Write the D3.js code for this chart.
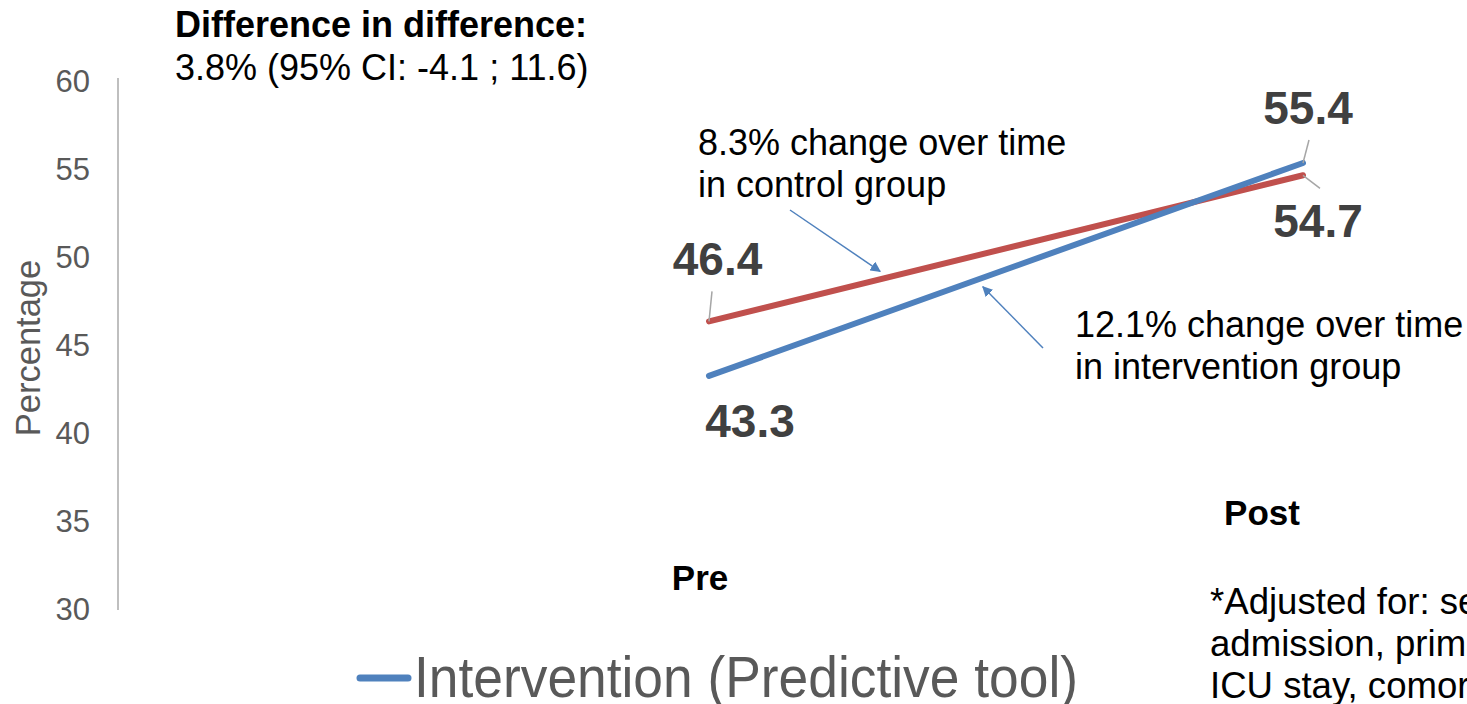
<!DOCTYPE html>
<html>
<head>
<meta charset="utf-8">
<script src="https://cdn.jsdelivr.net/npm/d3@7"></script>
<style>
  html, body { margin: 0; padding: 0; background: #fff; overflow: hidden; }
  svg { display: block; font-family: "Liberation Sans", Arial, sans-serif; }
</style>
</head>
<body>
<svg id="chart" width="1467" height="704"></svg>
<script>
// Periods and adjusted percentages
const periods = ["Pre", "Post"];
const intervention = [43.3, 55.4];
const control = [46.4, 54.7];
const yTicks = [30, 35, 40, 45, 50, 55, 60];
const seriesNames = ["Intervention (Predictive tool)", "Control"];
const footnote = [
  "*Adjusted for: sex, age, type of",
  "admission, primary diagnosis, length of",
  "ICU stay, comorbidities"
];

const svg = d3.select("#chart");
const blue = "#4f81bd", red = "#c0504d";

const x = d3.scalePoint().domain(periods).range([709, 1303]);
const y = d3.scaleLinear().domain([30, 60]).range([610, 82]);

// Y axis
const yAxis = d3.axisLeft(y).tickValues(yTicks).tickSize(0).tickPadding(28);
const gy = svg.append("g").attr("transform", "translate(118,0)").call(yAxis);
gy.select(".domain").attr("stroke", "#bfbfbf").attr("stroke-width", 2)
  .attr("d", `M0,${y(60) - 4}V${y(30)}`);
gy.selectAll(".tick text").attr("font-size", 31).attr("fill", "#595959")
  .attr("font-family", "Liberation Sans, Arial, sans-serif");

svg.append("text")
  .attr("transform", `translate(40,${(y(30) + y(60)) / 2 + 2}) rotate(-90)`)
  .attr("text-anchor", "middle").attr("font-size", 34.5).attr("fill", "#595959")
  .text("Percentage");

// Lines
const line = d3.line().x((d, i) => x(periods[i])).y(d => y(d));
svg.append("path").datum(control).attr("d", line)
  .attr("fill", "none").attr("stroke", red).attr("stroke-width", 6).attr("stroke-linecap", "round");
svg.append("path").datum(intervention).attr("d", line)
  .attr("fill", "none").attr("stroke", blue).attr("stroke-width", 6).attr("stroke-linecap", "round");

// Value labels with leader lines
const labels = [
  { v: control[0], p: 0, dx: 8.5, dy: -46, lx: 3, ly: -30 },
  { v: intervention[0], p: 0, dx: 41, dy: 61, lx: null },
  { v: intervention[1], p: 1, dx: 5, dy: -39, lx: 6, ly: -23 },
  { v: control[1], p: 1, dx: 15, dy: 62, lx: 17, ly: 13 }
];
labels.forEach(l => {
  const px = x(periods[l.p]), py = y(l.v);
  if (l.lx !== null) {
    svg.append("line").attr("x1", px).attr("y1", py)
      .attr("x2", px + l.lx).attr("y2", py + l.ly)
      .attr("stroke", "#a6a6a6").attr("stroke-width", 1.5);
  }
  svg.append("text").attr("x", px + l.dx).attr("y", py + l.dy)
    .attr("text-anchor", "middle").attr("font-size", 46).attr("font-weight", "bold")
    .attr("fill", "#404040").text(l.v.toFixed(1));
});

// Arrow marker
svg.append("defs").append("marker").attr("id", "arrow")
  .attr("viewBox", "0 0 10 10").attr("refX", 9).attr("refY", 5)
  .attr("markerWidth", 7).attr("markerHeight", 7).attr("orient", "auto")
  .append("path").attr("d", "M0,0L10,5L0,10Z").attr("fill", blue);

function along(series, t) {
  return [x(periods[0]) + t * (x(periods[1]) - x(periods[0])), y(series[0] + t * (series[1] - series[0]))];
}
const a1 = along(control, 0.288);
svg.append("line").attr("x1", 790).attr("y1", 210).attr("x2", a1[0]).attr("y2", a1[1] - 8)
  .attr("stroke", blue).attr("stroke-width", 1.5).attr("marker-end", "url(#arrow)");
const a2 = along(intervention, 0.461);
svg.append("line").attr("x1", 1043).attr("y1", 348).attr("x2", a2[0]).attr("y2", a2[1] + 9)
  .attr("stroke", blue).attr("stroke-width", 1.5).attr("marker-end", "url(#arrow)");

// Annotation texts
function block(lines, x0, y0, size, weight, lh, fill) {
  const t = svg.append("text").attr("x", x0).attr("y", y0)
    .attr("font-size", size).attr("font-weight", weight).attr("fill", fill);
  lines.forEach((s, i) => t.append("tspan").attr("x", x0).attr("y", y0 + i * lh).text(s));
}
block(["Difference in difference:"], 175, 37, 36, "bold", 0, "#000");
block(["3.8% (95% CI: -4.1 ; 11.6)"], 175, 80, 36, "normal", 0, "#000");
block(["8.3% change over time", "in control group"], 698, 155, 36, "normal", 42, "#000");
block(["12.1% change over time", "in intervention group"], 1075, 337, 36, "normal", 42, "#000");
block(footnote, 1210, 614, 36.6, "normal", 42, "#000");

// Period labels
svg.append("text").attr("x", x("Pre") - 9).attr("y", 590).attr("text-anchor", "middle")
  .attr("font-size", 35).attr("font-weight", "bold").attr("fill", "#000").text("Pre");
svg.append("text").attr("x", x("Post") - 41).attr("y", 525).attr("text-anchor", "middle")
  .attr("font-size", 35).attr("font-weight", "bold").attr("fill", "#000").text("Post");

// Legend
svg.append("line").attr("x1", 360).attr("x2", 408).attr("y1", 678).attr("y2", 678)
  .attr("stroke", blue).attr("stroke-width", 7).attr("stroke-linecap", "round");
svg.append("text").attr("x", 414).attr("y", 697).attr("font-size", 57).attr("fill", "#595959")
  .attr("textLength", 664).attr("lengthAdjust", "spacingAndGlyphs")
  .text(seriesNames[0]);
</script>
</body>
</html>
